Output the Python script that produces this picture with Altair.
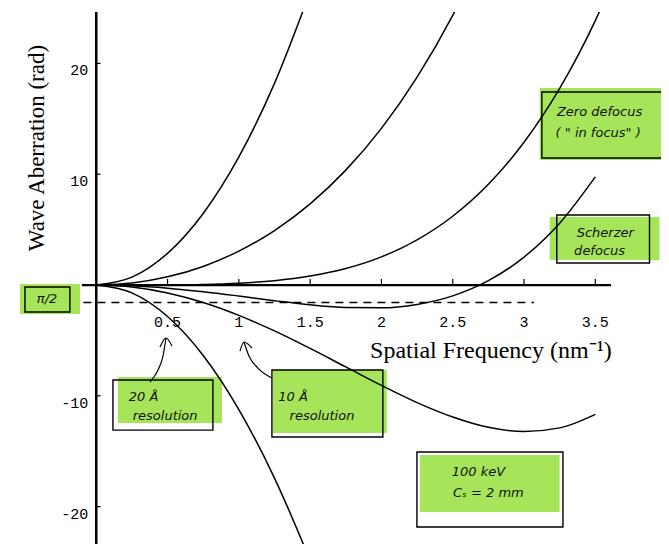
import altair as alt
import pandas as pd

# ---------------- data ----------------
k_grid = [0.0, 0.25, 0.5, 0.75, 1.0, 1.25, 1.5, 1.75, 2.0, 2.25, 2.5, 2.75, 3.0, 3.25, 3.5]
k_zero = k_grid + [3.6]

chi_under_1000 = [0, 0.71, 2.86, 6.46, 11.56, 18.20, 26.46]
chi_under_250 = [0, 0.18, 0.74, 1.68, 3.06, 4.92, 7.33, 10.37, 14.14, 18.76, 24.34, 31.02]
chi_zero = [0, 0.00, 0.01, 0.05, 0.16, 0.39, 0.81, 1.49, 2.54, 4.08, 6.21, 9.09, 12.88, 17.74, 23.86, 26.71]
chi_scherzer = [0, -0.07, -0.28, -0.60, -0.99, -1.41, -1.79, -2.03, -2.06, -1.75, -0.98, 0.39, 2.52, 5.58, 9.76]
chi_over_250 = [0, -0.18, -0.72, -1.58, -2.74, -4.14, -5.72, -7.39, -9.06, -10.61, -11.91, -12.84, -13.22, -12.89, -11.67]
chi_over_1000 = [0, -0.71, -2.84, -6.36, -11.24, -17.42, -24.85]

x_ticks = [0.5, 1.0, 1.5, 2.0, 2.5, 3.0, 3.5]
x_tick_labels = ["0.5", "1", "1.5", "2", "2.5", "3", "3.5"]
y_ticks = [20, 10, -10, -20]
y_tick_labels = ["20", "10", "-10", "-20"]
half_pi = 1.5708

# ---------------- tables ----------------
curve_rows = []
for name, ks, vals in [
    ("u1000", k_grid, chi_under_1000),
    ("u250", k_grid, chi_under_250),
    ("zero", k_zero, chi_zero),
    ("scherzer", k_grid, chi_scherzer),
    ("o250", k_grid, chi_over_250),
    ("o1000", k_grid, chi_over_1000),
]:
    for k, v in zip(ks, vals):
        curve_rows.append({"curve": name, "k": k, "chi": v})
curves_df = pd.DataFrame(curve_rows)

X = alt.Scale(domain=[-0.1, 3.61], nice=False, zero=False)
Y = alt.Scale(domain=[-23.37, 24.64], nice=False, zero=False)

def xq(field):
    return alt.X(field, type="quantitative", scale=X, axis=None)

def yq(field):
    return alt.Y(field, type="quantitative", scale=Y, axis=None)

# annotation boxes (layout, in data units)
green_df = pd.DataFrame({
    "x": [-0.535, 3.11, 3.18, 0.152, 1.239, 2.27],
    "x2": [-0.114, 4.01, 3.95, 0.882, 2.038, 3.25],
    "y": [0.09, 17.78, 6.14, -8.30, -7.67, -15.34],
    "y2": [-2.62, 11.28, 2.26, -12.45, -13.36, -20.49],
})
border_df = pd.DataFrame({
    "x": [-0.50, 3.125, 3.23, 0.117, 1.232, 2.249],
    "x2": [-0.185, 3.967, 3.88, 0.818, 2.01, 3.273],
    "y": [-0.18, 17.42, 6.32, -8.57, -7.67, -15.07],
    "y2": [-2.44, 11.46, 1.99, -13.09, -13.72, -21.84],
})

green = alt.Chart(green_df).mark_rect(fill="#97e03c", opacity=0.85, clip=False).encode(
    x=xq("x"), x2="x2", y=yq("y"), y2="y2")
borders = alt.Chart(border_df).mark_rect(fillOpacity=0, stroke="black", strokeWidth=1.4, clip=False).encode(
    x=xq("x"), x2="x2", y=yq("y"), y2="y2")

lines = alt.Chart(curves_df).mark_line(color="black", strokeWidth=1.5, interpolate="monotone", clip=True).encode(
    x=xq("k"), y=yq("chi"), detail="curve:N", order="k:Q")

dash_df = pd.DataFrame({"x": [-0.09], "x2": [3.07], "y": [-half_pi]})
dashed = alt.Chart(dash_df).mark_rule(color="black", strokeWidth=1.4, strokeDash=[8, 6]).encode(
    x=xq("x"), x2="x2", y=yq("y"))

xaxis_df = pd.DataFrame({"x": [-0.1], "x2": [3.61], "y": [0]})
xaxis = alt.Chart(xaxis_df).mark_rule(color="black", strokeWidth=2.3).encode(x=xq("x"), x2="x2", y=yq("y"))
yaxis_df = pd.DataFrame({"x": [0], "y": [-23.37], "y2": [24.64]})
yaxis = alt.Chart(yaxis_df).mark_rule(color="black", strokeWidth=2.5).encode(x=xq("x"), y=yq("y"), y2="y2")

xt_df = pd.DataFrame({"x": x_ticks, "lab": x_tick_labels, "y": [0] * len(x_ticks), "y2": [0.55] * len(x_ticks)})
xticks = alt.Chart(xt_df).mark_rule(color="black", strokeWidth=1.2).encode(x=xq("x"), y=yq("y"), y2="y2")
xlabels = alt.Chart(xt_df).mark_text(font="Liberation Mono", fontSize=15, baseline="middle", align="center", dy=37).encode(
    x=xq("x"), y=yq("y"), text="lab:N")

yt_df = pd.DataFrame({"y": y_ticks, "lab": y_tick_labels, "x": [0] * len(y_ticks), "x2": [0.03] * len(y_ticks)})
yticks = alt.Chart(yt_df).mark_rule(color="black", strokeWidth=1.2).encode(y=yq("y"), x=xq("x"), x2="x2")
ylabels = alt.Chart(yt_df).mark_text(font="Liberation Mono", fontSize=15, baseline="middle", align="right", dx=-8, dy=7).encode(
    x=xq("x"), y=yq("y"), text="lab:N")

xtitle = alt.Chart(pd.DataFrame({"x": [3.616], "y": [-6.59], "t": ["Spatial Frequency (nm⁻¹)"]})).mark_text(
    font="Liberation Serif", fontSize=24, align="right", baseline="alphabetic").encode(x=xq("x"), y=yq("y"), text="t:N")
ytitle = alt.Chart(pd.DataFrame({"x": [-0.416], "y": [12.36], "t": ["Wave Aberration (rad)"]})).mark_text(
    font="Liberation Serif", fontSize=23, align="center", baseline="middle", angle=270).encode(x=xq("x"), y=yq("y"), text="t:N")

note_df = pd.DataFrame({
    "x": [-0.345, 3.53, 3.52, 3.57, 3.53, 0.332, 0.483, 1.38, 1.583, 2.68, 2.75],
    "y": [-1.26, 15.61, 13.72, 4.69, 3.07, -10.1, -11.82, -10.1, -11.82, -16.88, -18.77],
    "t": ["π/2", "Zero defocus", "( \" in focus\" )", "Scherzer", "defocus", "20 Å", "resolution",
          "10 Å", "resolution", "100 keV", "Cₛ = 2 mm"],
})
notes = alt.Chart(note_df).mark_text(font="DejaVu Sans", fontStyle="italic", fontSize=13, align="center",
                                     baseline="middle", color="#111").encode(x=xq("x"), y=yq("y"), text="t:N")

arrow_df = pd.DataFrame({
    "g": ["a"] * 4 + ["ah"] * 3 + ["b"] * 4 + ["bh"] * 3,
    "o": [0, 1, 2, 3, 0, 1, 2, 0, 1, 2, 3, 0, 1, 2],
    "x": [0.377, 0.433, 0.468, 0.489, 0.447, 0.489, 0.531,
          1.232, 1.134, 1.071, 1.036, 1.008, 1.036, 1.092],
    "y": [-8.75, -7.67, -6.41, -4.78, -5.60, -4.78, -5.51,
          -8.39, -7.49, -6.41, -5.14, -5.96, -5.14, -5.69],
})
arrows = alt.Chart(arrow_df).mark_line(color="black", strokeWidth=1.2, interpolate="monotone", clip=False).encode(
    x=xq("x"), y=yq("y"), detail="g:N", order="o:Q")

chart = alt.layer(
    green, borders, lines, dashed, xaxis, yaxis, xticks, yticks, xlabels, ylabels,
    xtitle, ytitle, notes, arrows
).properties(
    width=529, height=532,
    autosize=alt.AutoSizeParams(type="none"),
    padding={"left": 74, "top": 4, "right": 50, "bottom": 0},
    background="white",
).configure_view(stroke=None)

chart.save("out.html", embed_options={"renderer": "svg", "actions": False})
